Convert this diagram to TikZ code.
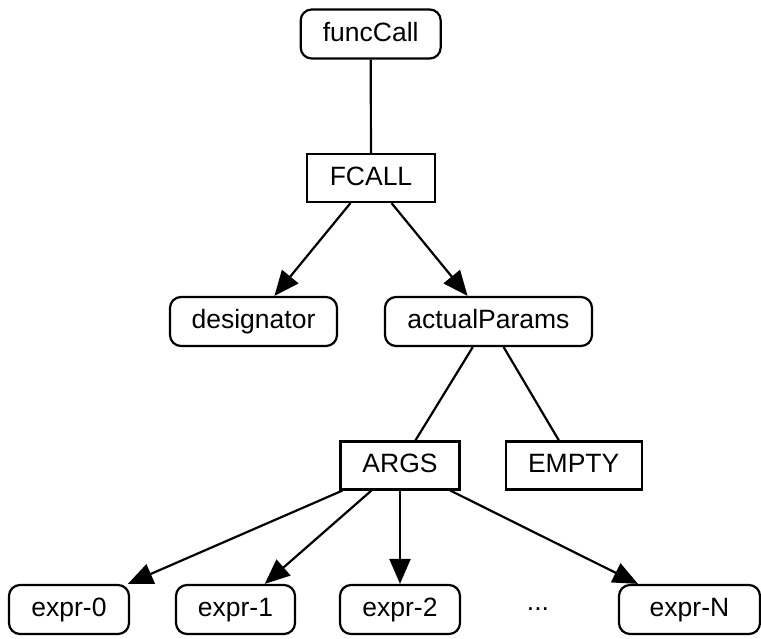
\documentclass[tikz,border=0pt]{standalone}
\usepackage{fontspec}
\setmainfont{Liberation Sans}
\usetikzlibrary{arrows.meta}
\begin{document}
\begin{tikzpicture}[x=1pt,y=-1pt,
  base/.style={draw=black, line width=2.2pt, inner sep=0pt, font=\fontsize{26.5}{30}\selectfont, text height=19pt, text depth=5pt, anchor=center},
  rbox/.style={base, rounded corners=11pt, minimum height=49pt},
  sbox/.style={base, minimum height=48pt},
  edge/.style={line width=2.2pt},
  arr/.style={edge, -{Triangle[length=25pt,width=21pt]}}]
\useasboundingbox (0,0) rectangle (761,638);
\node[rbox, minimum width=140pt] (fc) at (370.7,34) {funcCall};
\node[sbox, minimum width=128pt] (fcall) at (371,178) {FCALL};
\node[rbox, minimum width=167pt] (des) at (253.5,321.5) {designator};
\node[rbox, minimum width=207pt] (ap) at (488.5,321.5) {actualParams};
\node[sbox, minimum width=119pt] (args) at (400,465.5) {ARGS};
\node[sbox, minimum width=136pt] (empty) at (573.7,465.5) {EMPTY};
\node[rbox, minimum width=120pt] (e0) at (69,609.5) {expr-0};
\node[rbox, minimum width=119pt] (e1) at (235.5,609.5) {expr-1};
\node[rbox, minimum width=120pt] (e2) at (400,609.5) {expr-2};
\node[font=\fontsize{26.5}{30}\selectfont, inner sep=0pt] (dots) at (538,609.5) {...};
\node[rbox, minimum width=141pt] (en) at (689.5,609.5) {expr-N};
\draw[edge] (fc) -- (fcall);
\draw[arr] (fcall) -- (des);
\draw[arr] (fcall) -- (ap);
\draw[edge] (ap) -- (args);
\draw[edge] (ap) -- (empty);
\draw[arr] (args) -- (e0);
\draw[arr] (args) -- (e1);
\draw[arr] (args) -- (e2);
\draw[arr] (args) -- (en);
\end{tikzpicture}
\end{document}
